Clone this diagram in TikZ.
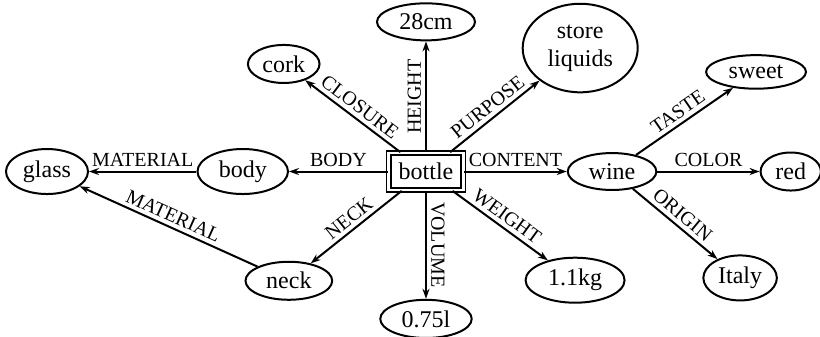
\documentclass[tikz,border=0pt]{standalone}
\usepackage{fontspec}
\setmainfont{Liberation Serif}
\usetikzlibrary{shapes.geometric,arrows.meta}
\begin{document}
\begin{tikzpicture}[
    concept/.style={draw, ellipse, line width=1pt, inner xsep=4pt, inner ysep=2.5pt, font=\fontsize{12}{14}\selectfont},
    rel/.style={line width=1pt, -{Stealth[length=5pt,width=3.5pt]}},
    lbl/.style={midway, sloped, above, inner sep=2pt, font=\fontsize{10}{12}\selectfont}]
\useasboundingbox (-7.486,-2.908) rectangle (6.924,3.014);
\node[draw, double, line width=0.9pt, double distance=1.2pt, inner sep=5pt,
      font=\fontsize{12}{14}\selectfont] (bottle) at (0,0) {bottle};
\node[concept] (height) at (0,2.63) {28cm};
\node[concept, inner xsep=2pt] (cork) at (-2.50,1.89) {cork};
\node[concept, inner sep=4pt, align=center] (purpose) at (2.71,2.17) {store\\liquids};
\node[concept] (sweet) at (5.80,1.75) {sweet};
\node[concept, inner xsep=2.5pt] (glass) at (-6.66,0) {glass};
\node[concept] (body) at (-3.22,0) {body};
\node[concept] (wine) at (3.27,0) {wine};
\node[concept, inner xsep=3pt] (red) at (6.41,0) {red};
\node[concept] (neck) at (-2.41,-1.92) {neck};
\node[concept] (volume) at (0,-2.59) {0.75l};
\node[concept] (weight) at (2.62,-1.91) {1.1kg};
\node[concept, inner xsep=2pt] (italy) at (5.52,-1.87) {Italy};
% relations of the bottle
\draw[rel] (bottle) -- (height) node[lbl] {HEIGHT};
\draw[rel] (bottle) -- (cork) node[lbl] {CLOSURE};
\draw[rel] (bottle) -- (purpose) node[lbl] {PURPOSE};
\draw[rel] (bottle) -- (body) node[lbl] {BODY};
\draw[rel] (bottle) -- (wine) node[lbl] {CONTENT};
\draw[rel] (bottle) -- (neck) node[lbl] {NECK};
\draw[rel] (bottle) -- (volume) node[lbl] {VOLUME};
\draw[rel] (bottle) -- (weight) node[lbl] {WEIGHT};
% parts and content
\draw[rel] (body) -- (glass) node[lbl] {MATERIAL};
\draw[rel] (neck) -- (glass) node[lbl] {MATERIAL};
\draw[rel] (wine) -- (sweet) node[lbl] {TASTE};
\draw[rel] (wine) -- (red) node[lbl] {COLOR};
\draw[rel] (wine) -- (italy) node[lbl] {ORIGIN};
\end{tikzpicture}
\end{document}
